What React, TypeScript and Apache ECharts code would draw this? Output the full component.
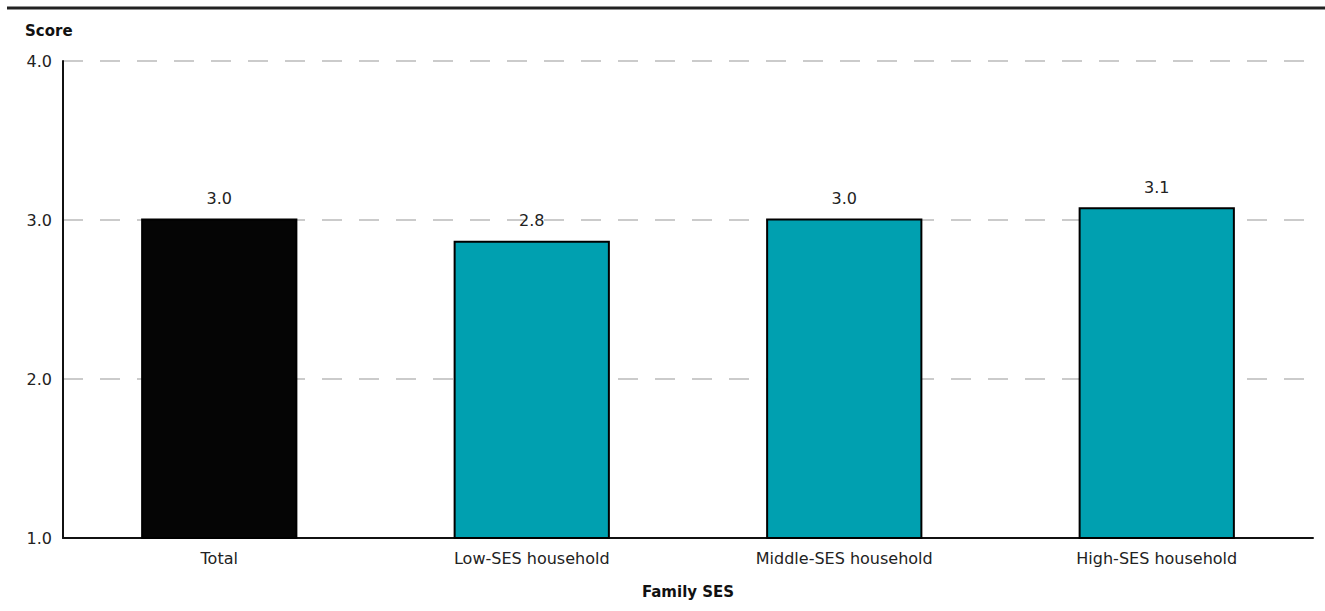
import React, { useEffect, useRef } from "react";
import * as echarts from "echarts";

const categories = ["Total", "Low-SES household", "Middle-SES household", "High-SES household"];
const scores = [3.01, 2.87, 3.01, 3.08];
const labels = ["3.0", "2.8", "3.0", "3.1"];
const barColors = ["#050505", "#00a0b0", "#00a0b0", "#00a0b0"];

const FONT = "'DejaVu Sans', sans-serif";

export default function App() {
  const ref = useRef<HTMLDivElement>(null);
  useEffect(() => {
    document.body.style.margin = "0";
    if (!ref.current) return;
    const chart = echarts.init(ref.current, null, { renderer: "svg" });
    chart.setOption({
      animation: false,
      backgroundColor: "#ffffff",
      textStyle: { fontFamily: FONT },
      grid: { left: 63, right: 12, top: 61, bottom: 73, containLabel: false },
      graphic: [
        {
          type: "line",
          shape: { x1: 7, y1: 8, x2: 1325, y2: 8 },
          style: { stroke: "#222", lineWidth: 3 },
        },
        {
          type: "text",
          left: 25,
          top: 23,
          style: { text: "Score", font: `bold 15px ${FONT}`, fill: "#111" },
        },
      ],
      xAxis: {
        type: "category",
        data: categories,
        name: "Family SES",
        nameLocation: "middle",
        nameGap: 46,
        nameTextStyle: { fontFamily: FONT, fontWeight: "bold", fontSize: 15, color: "#111" },
        axisLine: { lineStyle: { color: "#111", width: 2 } },
        axisTick: { show: false },
        axisLabel: { fontFamily: FONT, fontSize: 16, color: "#222", margin: 12 },
      },
      yAxis: {
        type: "value",
        min: 1,
        max: 4,
        interval: 1,
        axisLine: { show: true, lineStyle: { color: "#111", width: 2 } },
        axisTick: { show: false },
        axisLabel: {
          fontFamily: FONT,
          fontSize: 16,
          color: "#222",
          margin: 11,
          formatter: (v: number) => v.toFixed(1),
        },
        splitLine: {
          show: true,
          lineStyle: { color: "#bbbbbb", width: 1.5, type: [20, 17] },
        },
      },
      series: [
        {
          type: "bar",
          barWidth: "50%",
          data: scores.map((v, i) => ({
            value: v,
            itemStyle: { color: barColors[i], borderColor: "#000", borderWidth: 2 },
            label: { formatter: labels[i] },
          })),
          label: {
            show: true,
            position: "top",
            distance: 12,
            fontFamily: FONT,
            fontSize: 16,
            color: "#222",
          },
        },
      ],
    });
    return () => chart.dispose();
  }, []);
  return <div ref={ref} style={{ width: 1325, height: 611 }} />;
}
